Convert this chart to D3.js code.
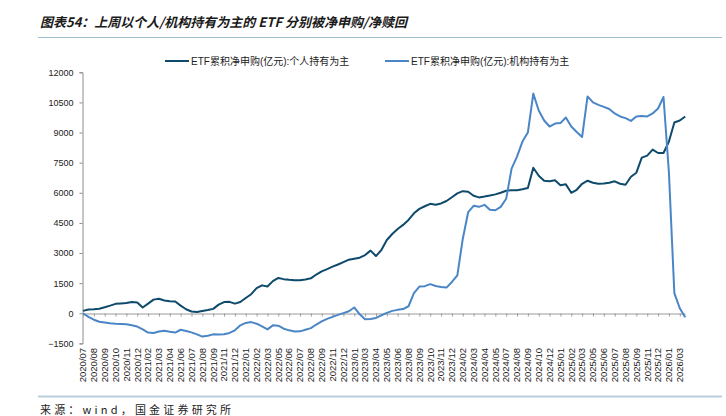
<!DOCTYPE html>
<html>
<head>
<meta charset="utf-8">
<script src="https://cdn.jsdelivr.net/npm/d3@7"></script>
<style>
  body { margin: 0; background: #fff; }
  svg { display: block; }
</style>
</head>
<body>
<svg class="chart"></svg>
<script>
let width = 726, height = 416;
let margin = { top: 72.3, right: 40.8, bottom: 72.6, left: 83 };

let seriesNames = ["ETF累积净申购(亿元):个人持有为主", "ETF累积净申购(亿元):机构持有为主"];
let yTicks = [-1500, 0, 1500, 3000, 4500, 6000, 7500, 9000, 10500, 12000];

// one label every 2 samples
let tickLabels = ["2020/07", "2020/08", "2020/09", "2020/10", "2020/11", "2020/12", "2021/02", "2021/03",
  "2021/04", "2021/06", "2021/07", "2021/08", "2021/09", "2021/11", "2021/12", "2022/01", "2022/02",
  "2022/03", "2022/05", "2022/06", "2022/07", "2022/08", "2022/09", "2022/11", "2022/12", "2023/01",
  "2023/03", "2023/04", "2023/05", "2023/06", "2023/08", "2023/09", "2023/10", "2023/11", "2023/12",
  "2024/02", "2024/03", "2024/04", "2024/05", "2024/07", "2024/08", "2024/09", "2024/10", "2024/12",
  "2025/01", "2025/02", "2025/03", "2025/05", "2025/06", "2025/07", "2025/08", "2025/09", "2025/11",
  "2025/12", "2026/01", "2026/03"];

// individual-held ETFs, cumulative net subscription (100m yuan)
let individual = [120, 190, 200, 230, 300, 380, 470, 490, 510, 560,
  540, 290, 480, 680, 720, 640, 600, 590, 380, 200,
  90, 65, 110, 160, 220, 430, 560, 570, 480, 560,
  760, 950, 1250, 1390, 1330, 1600, 1760, 1700, 1670, 1650,
  1640, 1680, 1740, 1930, 2090, 2200, 2320, 2430, 2550, 2670,
  2720, 2770, 2900, 3120, 2850, 3150, 3650, 3950, 4200, 4400,
  4650, 4980, 5200, 5330, 5450, 5400, 5470, 5590, 5780, 5970,
  6080, 6050, 5850, 5770, 5810, 5860, 5920, 6000, 6100, 6130,
  6130, 6180, 6240, 7250, 6850, 6600, 6580, 6620, 6380, 6420,
  6000, 6150, 6450, 6600, 6500, 6450, 6460, 6500, 6570, 6450,
  6400, 6800, 7000, 7750, 7850, 8150, 7980, 7980, 8550, 9500,
  9600, 9800];

// institution-held ETFs, cumulative net subscription (100m yuan)
let institution = [0, -180, -320, -420, -460, -500, -520, -530, -550, -600,
  -660, -800, -960, -980, -910, -870, -920, -960, -820, -880,
  -950, -1050, -1160, -1120, -1050, -1060, -1040, -980, -850, -600,
  -480, -440, -520, -650, -800, -600, -620, -770, -850, -910,
  -900, -820, -740, -560, -400, -280, -180, -80, 10, 100,
  290, -50, -300, -280, -230, -100, 20, 120, 170, 210,
  350, 1000, 1330, 1350, 1450, 1360, 1310, 1280, 1560, 1890,
  3700, 5040, 5350, 5300, 5400, 5150, 5130, 5300, 5700, 7200,
  7800, 8550, 9000, 10940, 10100, 9600, 9300, 9450, 9470, 9750,
  9300, 9030, 8780, 10800, 10500, 10380, 10280, 10170, 9950, 9800,
  9720, 9580, 9800, 9820, 9800, 9950, 10200, 10770, 7000, 1000,
  250, -200];

let colors = ["#0d4a6b", "#4a86c6"];

let svg = d3.select(".chart")
  .attr("width", width)
  .attr("height", height)
  .style("font-family", "'Liberation Sans', Arial, 'Noto Sans CJK SC', sans-serif");

// scales
let x = d3.scaleLinear()
  .domain([0, individual.length - 1])
  .range([margin.left, width - margin.right]);

let y = d3.scaleLinear()
  .domain([-1500, 12000])
  .range([height - margin.bottom, margin.top]);

let tickIdx = tickLabels.map((d, i) => i * 2);

// title + rules
svg.append("text")
  .attr("x", 40)
  .attr("y", 27)
  .style("font-family", "'Noto Sans CJK SC', sans-serif")
  .style("font-size", "13px")
  .style("font-weight", "bold")
  .style("font-style", "italic")
  .style("fill", "#1a1a1a")
  .text("图表54：上周以个人/机构持有为主的 ETF 分别被净申购/净赎回");

svg.append("line")
  .attr("x1", 38).attr("x2", 722)
  .attr("y1", 37.5).attr("y2", 37.5)
  .style("stroke", "#9fbdd0")
  .style("stroke-width", 1);

svg.append("line")
  .attr("x1", 38).attr("x2", 722)
  .attr("y1", 396.5).attr("y2", 396.5)
  .style("stroke", "#b9cedb")
  .style("stroke-width", 2);

svg.append("text")
  .attr("x", 40)
  .attr("y", 414)
  .attr("textLength", 191)
  .attr("lengthAdjust", "spacing")
  .style("font-family", "'Noto Sans CJK SC', sans-serif")
  .style("font-size", "11px")
  .style("fill", "#222")
  .text("来源：wind，国金证券研究所");

// y axis
let yAxis = svg.append("g")
  .attr("transform", "translate(" + (margin.left - 0.5) + ",0)")
  .call(d3.axisLeft(y).tickValues(yTicks).tickFormat(d3.format("d"))
    .tickSize(3).tickSizeOuter(3).tickPadding(6));
yAxis.select(".domain").style("stroke", "#8c8c8c");
yAxis.selectAll(".tick line").style("stroke", "#8c8c8c");
yAxis.selectAll("text")
  .style("font-size", "9px")
  .style("font-family", "'Liberation Sans', Arial, sans-serif")
  .style("fill", "#222");

// zero line with tick marks
let zeroAxis = svg.append("g")
  .attr("transform", "translate(0," + (Math.round(y(0)) + 0.5) + ")")
  .call(d3.axisBottom(x).tickValues(tickIdx).tickSize(3).tickSizeOuter(0).tickFormat(""));
zeroAxis.select(".domain").style("stroke", "#9a9a9a");
zeroAxis.selectAll(".tick line").style("stroke", "#9a9a9a");

// bottom labels (rotated)
svg.append("g")
  .selectAll("text")
  .data(tickLabels)
  .enter().append("text")
  .attr("transform", (d, i) => "translate(" + x(tickIdx[i]) + "," + (height - margin.bottom + 4.5) + ") rotate(-90)")
  .attr("dy", "0.35em")
  .style("text-anchor", "end")
  .style("font-size", "9.5px")
  .style("fill", "#222")
  .text(d => d);

// lines
let line = d3.line()
  .x((d, i) => x(i))
  .y(d => y(d));

[individual, institution].forEach((s, j) => {
  svg.append("path")
    .datum(s)
    .attr("d", line)
    .style("fill", "none")
    .style("stroke", colors[j])
    .style("stroke-width", 2)
    .style("stroke-linejoin", "round");
});

// legend
let legendX = [165, 385];
seriesNames.forEach((name, j) => {
  let g = svg.append("g").attr("transform", "translate(" + legendX[j] + ",61)");
  g.append("line")
    .attr("x1", 0).attr("x2", 24)
    .style("stroke", colors[j])
    .style("stroke-width", 2);
  g.append("text")
    .attr("x", 26)
    .attr("dy", "0.35em")
    .style("font-size", "10px")
    .style("fill", "#222")
    .text(name);
});
</script>
</body>
</html>
